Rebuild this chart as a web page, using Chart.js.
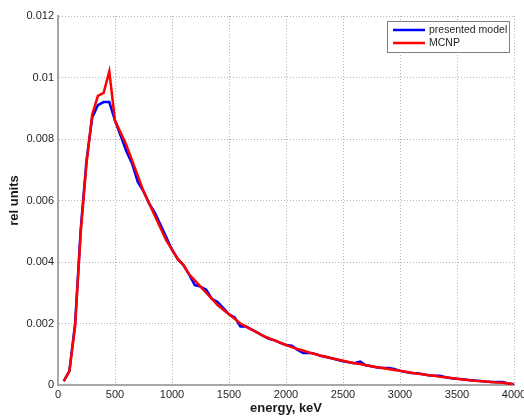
<!DOCTYPE html>
<html>
<head>
<meta charset="utf-8">
<title>energy spectrum</title>
<script src="https://cdn.jsdelivr.net/npm/chart.js@4.4.1/dist/chart.umd.min.js"></script>
<style>
  html, body { margin: 0; padding: 0; background: #fff; }
  #wrap { width: 524px; height: 416px; position: relative; }
</style>
</head>
<body>
<div id="wrap"><canvas id="spectrum"></canvas></div>
<script>
// energy bins, keV
const energies = [
  50, 100, 150, 200, 250, 300, 350, 400, 450, 500,
  550, 600, 650, 700, 750, 800, 850, 900, 950, 1000,
  1050, 1100, 1150, 1200, 1250, 1300, 1350, 1400, 1450, 1500,
  1550, 1600, 1650, 1700, 1750, 1800, 1850, 1900, 1950, 2000,
  2050, 2100, 2150, 2200, 2250, 2300, 2350, 2400, 2450, 2500,
  2550, 2600, 2650, 2700, 2750, 2800, 2850, 2900, 2950, 3000,
  3050, 3100, 3150, 3200, 3250, 3300, 3350, 3400, 3450, 3500,
  3550, 3600, 3650, 3700, 3750, 3800, 3850, 3900, 3950, 4000
];

// presented model (blue)
const modelValues = [
  0.00013, 0.00045, 0.0020, 0.0051, 0.0073, 0.0087, 0.0091, 0.0092, 0.0092, 0.0086,
  0.0081, 0.0076, 0.0072, 0.0066, 0.0063, 0.0059, 0.0056, 0.0052, 0.0048, 0.0044,
  0.0041, 0.0039, 0.0036, 0.00325, 0.0032, 0.0031, 0.0028, 0.0027, 0.0025, 0.0023,
  0.0022, 0.0019, 0.0019, 0.0018, 0.0017, 0.0016, 0.0015, 0.00145, 0.00137, 0.0013,
  0.00128, 0.00115, 0.00104, 0.00105, 0.00102, 0.00095, 0.00091, 0.00087, 0.00082, 0.00077,
  0.00074, 0.00071, 0.00076, 0.00064, 0.00061, 0.00057, 0.00055, 0.00055, 0.00052, 0.00046,
  0.00042, 0.00039, 0.00038, 0.00035, 0.00032, 0.00030, 0.00030, 0.00025, 0.00022, 0.00020,
  0.00019, 0.00016, 0.00015, 0.00013, 0.00011, 0.00010, 0.00010, 0.00010, 0.00005, 0.00002
];

// MCNP (red)
const mcnpValues = [
  0.00013, 0.00045, 0.0019, 0.0050, 0.0072, 0.0088, 0.0094, 0.0095, 0.0102, 0.0086,
  0.0082, 0.0078, 0.0073, 0.0068, 0.0063, 0.0059, 0.0055, 0.0051, 0.0047, 0.0044,
  0.0041, 0.0039, 0.0036, 0.0034, 0.0032, 0.0030, 0.0028, 0.0026, 0.00245, 0.0023,
  0.00215, 0.0020, 0.0019, 0.0018, 0.0017, 0.0016, 0.00152, 0.00145, 0.00138, 0.0013,
  0.00123, 0.00117, 0.00112, 0.00106, 0.00101, 0.00096, 0.00092, 0.00087, 0.00083, 0.00079,
  0.00075, 0.00071, 0.00068, 0.00064, 0.00061, 0.00058, 0.00055, 0.00052, 0.00049, 0.00046,
  0.00043, 0.00040, 0.00037, 0.00035, 0.00032, 0.00030, 0.00027, 0.00025, 0.00023, 0.00020,
  0.00018, 0.00016, 0.00014, 0.00013, 0.00011, 0.00010, 0.00008, 0.00007, 0.00005, 0.00002
];

const xTicks = [0, 500, 1000, 1500, 2000, 2500, 3000, 3500, 4000];
const yTicks = [0, 0.002, 0.004, 0.006, 0.008, 0.01, 0.012];

const seriesNames = ["presented model", "MCNP"];

const FONT = "'Liberation Sans', Arial, Helvetica, sans-serif";

// legend box drawn inside the plot, top right (matlab style)
const boxLegend = {
  id: "boxLegend",
  afterDraw(chart) {
    const ctx = chart.ctx;
    const area = chart.chartArea;
    const w = 123, h = 32;
    const x = area.right - 4 - w;
    const y = area.top + 5;
    ctx.save();
    ctx.fillStyle = "#fff";
    ctx.fillRect(x, y, w, h);
    ctx.strokeStyle = "#808080";
    ctx.lineWidth = 1;
    ctx.strokeRect(x + 0.5, y + 0.5, w - 1, h - 1);
    ctx.font = "10.5px " + FONT;
    ctx.textBaseline = "middle";
    chart.data.datasets.forEach((ds, i) => {
      const ly = y + 9 + i * 13;
      ctx.strokeStyle = ds.borderColor;
      ctx.lineWidth = 2.5;
      ctx.beginPath();
      ctx.moveTo(x + 6, ly);
      ctx.lineTo(x + 38, ly);
      ctx.stroke();
      ctx.fillStyle = "#262626";
      ctx.fillText(ds.label, x + 42, ly);
    });
    ctx.restore();
  }
};

const ctx = document.getElementById("spectrum").getContext("2d");
new Chart(ctx, {
  type: "line",
  data: {
    datasets: [
      {
        label: seriesNames[0],
        data: energies.map((e, i) => ({ x: e, y: modelValues[i] })),
        borderColor: "#0000ff",
        borderWidth: 2.5,
        pointRadius: 0,
        tension: 0,
        order: 1,
      },
      {
        label: seriesNames[1],
        data: energies.map((e, i) => ({ x: e, y: mcnpValues[i] })),
        borderColor: "#ff0000",
        borderWidth: 2.5,
        pointRadius: 0,
        tension: 0,
        order: 0,
      },
    ],
  },
  options: {
    responsive: true,
    maintainAspectRatio: false,
    animation: false,
    layout: { padding: { top: 16, right: 10, left: 0, bottom: 0 } },
    plugins: {
      legend: { display: false },
      tooltip: { enabled: false },
    },
    scales: {
      x: {
        type: "linear",
        min: 0,
        max: 4000,
        afterBuildTicks: (scale) => { scale.ticks = xTicks.map((v) => ({ value: v })); },
        afterFit: (scale) => {
          scale.height = 31;
          scale.paddingLeft = 0;
          scale.paddingRight = 0;
        },
        ticks: {
          padding: 3,
          color: "#262626",
          font: { family: FONT, size: 11 },
          maxRotation: 0,
          callback: (v) => String(v),
        },
        grid: { color: "#b4b4b4", drawTicks: false },
        border: { color: "#a8a8a8", width: 2, dash: [1, 2] },
        title: {
          display: true,
          text: "energy, keV",
          color: "#1a1a1a",
          font: { family: FONT, size: 13, weight: "bold" },
          padding: { top: 0, bottom: 0 },
        },
      },
      y: {
        min: 0,
        max: 0.012,
        afterBuildTicks: (scale) => { scale.ticks = yTicks.map((v) => ({ value: v })); },
        afterFit: (scale) => {
          scale.width = 58;
          scale.paddingTop = 0;
          scale.paddingBottom = 0;
        },
        ticks: {
          padding: 4,
          color: "#262626",
          font: { family: FONT, size: 11 },
          callback: (v) => String(parseFloat(v.toFixed(3))),
        },
        grid: { color: "#b4b4b4", drawTicks: false },
        border: { color: "#a8a8a8", width: 2, dash: [1, 2] },
        title: {
          display: true,
          text: "rel units",
          color: "#1a1a1a",
          font: { family: FONT, size: 13, weight: "bold" },
          padding: { top: 7, bottom: 0 },
        },
      },
    },
  },
  plugins: [boxLegend],
});
</script>
</body>
</html>
